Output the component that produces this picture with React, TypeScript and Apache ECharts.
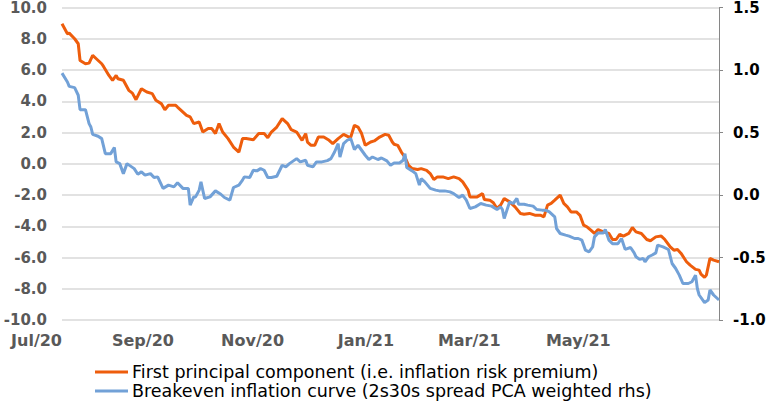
import React, { useEffect, useRef } from "react";
import * as echarts from "echarts";

// Day offsets are days since 1 Jul 2020
const START = [2020, 6, 1];
const END_DAY = 364; // 30 Jun 2021

const firstPcDays = [0,3,4,7,9,10,13,15,17,19,22,23,26,28,30,31,34,37,39,41,44,47,50,52,55,57,59,63,64,69,71,73,76,78,81,83,85,87,89,92,95,98,100,102,106,109,112,114,116,119,122,125,127,130,133,135,136,138,140,142,145,148,150,153,156,159,160,162,164,166,168,171,173,176,179,181,183,184,186,188,190,192,194,197,199,202,204,206,208,211,214,217,220,222,225,226,230,233,234,237,239,241,243,245,248,251,254,256,259,262,265,267,269,271,273,276,278,280,282,285,287,289,291,293,295,297,300,303,305,307,309,311,314,316,318,321,324,326,329,332,334,337,339,341,343,346,348,351,353,354,356,357,359,361,364];
const firstPcValues = [8.96,8.32,8.36,8.0,7.68,6.61,6.4,6.44,6.93,6.72,6.4,6.23,5.65,5.34,5.65,5.44,5.34,4.7,4.52,4.1,4.8,4.59,4.49,4.06,3.85,3.46,3.74,3.74,3.63,3.1,3.0,2.57,2.67,2.03,2.25,2.25,1.93,2.57,2.03,1.61,1.07,0.75,1.61,1.61,1.54,1.93,1.93,1.67,2.03,2.35,2.89,2.57,2.18,2.03,1.5,1.93,1.39,1.18,1.18,1.71,1.71,1.5,1.29,1.61,1.88,1.71,1.71,2.46,2.35,1.93,1.18,1.39,1.46,1.71,1.88,1.82,1.39,1.25,1.18,0.75,0.43,-0.1,-0.31,-0.37,-0.31,-0.42,-0.63,-1.01,-0.84,-0.84,-0.95,-0.84,-0.95,-1.16,-1.69,-2.12,-2.12,-1.91,-2.29,-2.33,-2.5,-2.86,-2.65,-2.22,-2.44,-2.76,-3.18,-3.23,-3.18,-3.29,-3.29,-3.4,-2.65,-2.54,-2.33,-2.01,-2.54,-2.76,-3.08,-3.08,-3.3,-3.93,-4.05,-4.25,-4.46,-4.21,-4.36,-4.46,-4.85,-4.85,-4.51,-4.63,-4.46,-4.08,-4.36,-4.46,-4.85,-4.93,-4.68,-4.63,-4.85,-5.32,-5.53,-5.49,-5.74,-6.27,-6.49,-6.76,-6.81,-7.06,-7.27,-7.13,-6.06,-6.17,-6.27];

const breakevenDays = [0,3,4,7,9,10,13,15,16,17,20,22,24,27,29,30,32,34,36,40,42,44,46,49,51,53,56,59,62,64,67,70,71,73,74,76,77,79,82,85,88,90,93,95,98,100,101,104,106,108,110,112,114,116,119,122,124,126,130,132,135,136,139,141,144,147,149,151,153,154,156,158,160,162,164,166,168,170,172,175,177,180,182,184,187,189,190,191,194,196,198,199,201,204,207,209,212,215,217,219,220,222,224,226,229,232,235,238,241,243,244,245,248,250,252,253,256,258,261,263,266,268,270,273,274,276,279,281,284,286,288,290,292,294,295,297,300,301,303,305,308,310,312,315,317,318,320,322,323,325,327,329,330,333,336,338,340,342,344,347,349,351,352,353,356,358,359,361,364];
const breakevenValues = [0.975,0.904,0.869,0.859,0.798,0.683,0.683,0.571,0.544,0.485,0.47,0.451,0.331,0.331,0.38,0.265,0.251,0.171,0.251,0.211,0.166,0.185,0.159,0.171,0.14,0.145,0.053,0.079,0.065,0.098,0.053,0.053,-0.081,-0.015,-0.015,0.039,0.105,-0.028,-0.015,0.033,0.006,-0.02,-0.041,0.06,0.079,0.119,0.145,0.14,0.198,0.193,0.211,0.198,0.14,0.14,0.15,0.238,0.225,0.251,0.291,0.265,0.278,0.238,0.225,0.265,0.265,0.275,0.291,0.344,0.411,0.304,0.411,0.438,0.451,0.364,0.398,0.358,0.318,0.284,0.304,0.284,0.296,0.273,0.238,0.256,0.256,0.278,0.331,0.22,0.193,0.171,0.079,0.131,0.105,0.053,0.039,0.033,0.033,0.025,0.011,-0.01,-0.02,-0.001,-0.041,-0.108,-0.095,-0.068,-0.081,-0.089,-0.116,-0.095,-0.116,-0.188,-0.055,-0.068,-0.028,-0.074,-0.074,-0.081,-0.089,-0.116,-0.121,-0.121,-0.135,-0.175,-0.268,-0.308,-0.321,-0.329,-0.348,-0.348,-0.361,-0.441,-0.455,-0.415,-0.335,-0.303,-0.303,-0.276,-0.361,-0.389,-0.389,-0.348,-0.435,-0.42,-0.463,-0.494,-0.515,-0.508,-0.534,-0.494,-0.48,-0.463,-0.401,-0.415,-0.436,-0.548,-0.588,-0.641,-0.708,-0.708,-0.694,-0.641,-0.748,-0.8,-0.861,-0.84,-0.76,-0.8,-0.84];

const tickDates = [[2020, 6, 1], [2020, 8, 1], [2020, 10, 1], [2021, 0, 1], [2021, 2, 1], [2021, 4, 1]];
const tickLabels = ["Jul/20", "Sep/20", "Nov/20", "Jan/21", "Mar/21", "May/21"];

const seriesNames = [
  "First principal component (i.e. inflation risk premium)",
  "Breakeven inflation curve (2s30s spread PCA weighted rhs)",
];

const DAY = 86400000;
const startTs = Date.UTC(START[0], START[1], START[2]);
const toTs = (d: number) => startTs + d * DAY;
const tickTs = tickDates.map((t) => Date.UTC(t[0], t[1], t[2]));

const FONT = "DejaVu Sans";

const legendBase = {
  orient: "horizontal",
  left: 95,
  icon: "rect",
  itemWidth: 33,
  itemHeight: 3,
  itemGap: 4,
  padding: 0,
  textStyle: { fontFamily: FONT, fontSize: 17.5, color: "#000000", lineHeight: 18, padding: [0, 0, 0, -1] },
};

export default function App() {
  const ref = useRef<HTMLDivElement>(null);
  useEffect(() => {
    if (!ref.current) return;
    const chart = echarts.init(ref.current, null, { renderer: "svg" });
    chart.setOption({
      animation: false,
      backgroundColor: "#ffffff",
      grid: { left: 62, right: 51, top: 7, bottom: 81, containLabel: false },
      legend: [
        { ...legendBase, top: 363, data: [seriesNames[0]] },
        { ...legendBase, top: 382, data: [seriesNames[1]] },
      ],
      xAxis: {
        type: "value",
        min: startTs,
        max: toTs(END_DAY),
        axisLine: { show: false },
        axisTick: { show: false },
        splitLine: { show: false },
        axisLabel: {
          customValues: tickTs,
          align: "right",
          margin: 12,
          fontFamily: FONT,
          fontWeight: "bold",
          fontSize: 16,
          color: "#595959",
          formatter: (v: number) => {
            const i = tickTs.findIndex((t) => Math.abs(t - v) < DAY / 2);
            return i >= 0 ? tickLabels[i] : "";
          },
        },
      },
      yAxis: [
        {
          type: "value",
          min: -10,
          max: 10,
          interval: 2,
          position: "left",
          axisLine: { show: false },
          axisTick: { show: false },
          splitLine: { show: true, lineStyle: { color: "#d9d9d9", width: 1.5 } },
          axisLabel: {
            margin: 15,
            fontFamily: FONT,
            fontWeight: "bold",
            fontSize: 15,
            color: "#595959",
            formatter: (v: number) => v.toFixed(1),
          },
        },
        {
          type: "value",
          min: -1,
          max: 1.5,
          interval: 0.5,
          position: "right",
          axisLine: { show: true, lineStyle: { color: "#868686", width: 1 } },
          axisTick: { show: true, inside: false, length: 4, lineStyle: { color: "#868686" } },
          splitLine: { show: false },
          axisLabel: {
            margin: 14,
            fontFamily: FONT,
            fontWeight: "bold",
            fontSize: 15,
            color: "#000000",
            formatter: (v: number) => v.toFixed(1),
          },
        },
      ],
      series: [
        {
          name: seriesNames[0],
          type: "line",
          yAxisIndex: 0,
          showSymbol: false,
          symbol: "none",
          color: "#EE5D0C",
          lineStyle: { color: "#EE5D0C", width: 3 },
          data: firstPcDays.map((d, i) => [toTs(d), firstPcValues[i]]),
        },
        {
          name: seriesNames[1],
          type: "line",
          yAxisIndex: 1,
          showSymbol: false,
          symbol: "none",
          color: "#72A1D7",
          lineStyle: { color: "#72A1D7", width: 3 },
          data: breakevenDays.map((d, i) => [toTs(d), breakevenValues[i]]),
        },
      ],
    });
    return () => chart.dispose();
  }, []);
  return (
    <div
      ref={ref}
      style={{ position: "fixed", left: 0, top: 0, width: 770, height: 401 }}
    />
  );
}
